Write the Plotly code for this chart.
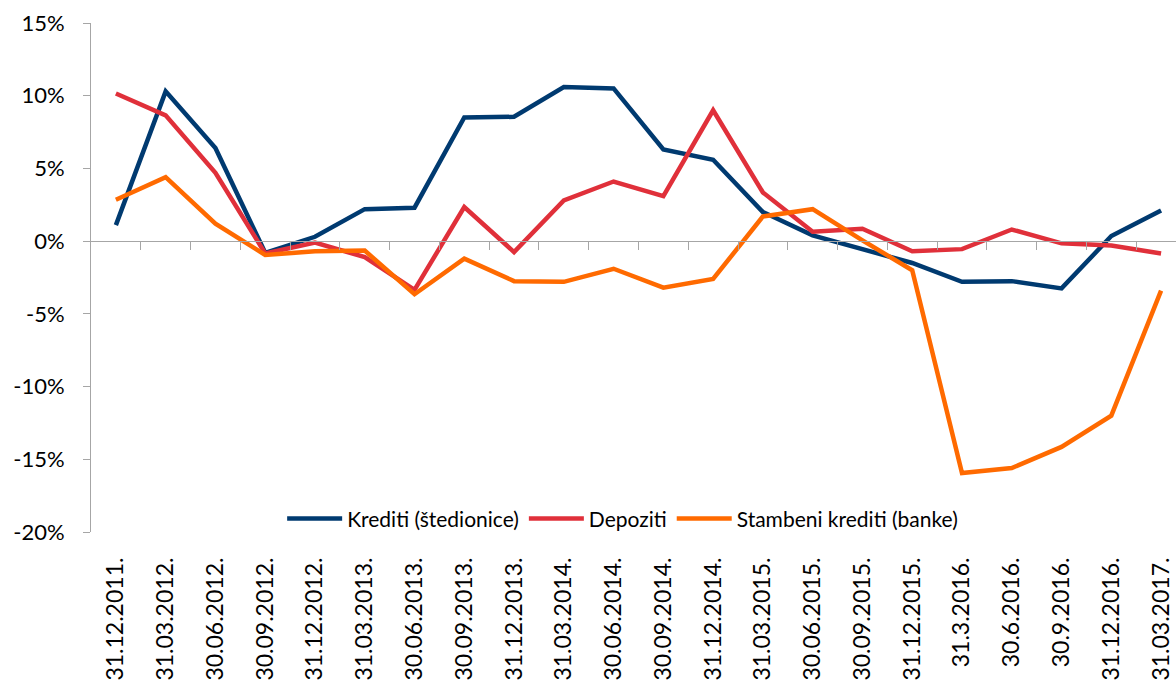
import plotly.graph_objects as go

# Quarter-end dates (x categories)
dates = [
    "31.12.2011.", "31.03.2012.", "30.06.2012.", "30.09.2012.", "31.12.2012.",
    "31.03.2013.", "30.06.2013.", "30.09.2013.", "31.12.2013.", "31.03.2014.",
    "30.06.2014.", "30.09.2014.", "31.12.2014.", "31.03.2015.", "30.06.2015.",
    "30.09.2015.", "31.12.2015.", "31.3.2016.", "30.6.2016.", "30.9.2016.",
    "31.12.2016.", "31.03.2017.",
]

# Annual growth rates, %
krediti_stedionice = [
    1.1, 10.3, 6.4, -0.8, 0.3, 2.2, 2.3, 8.5, 8.55, 10.6, 10.5,
    6.3, 5.6, 2.0, 0.4, -0.55, -1.5, -2.8, -2.75, -3.25, 0.35, 2.1,
]
depoziti = [
    10.15, 8.65, 4.7, -0.85, -0.1, -1.1, -3.35, 2.35, -0.75, 2.8, 4.1,
    3.1, 9.0, 3.35, 0.65, 0.85, -0.7, -0.55, 0.8, -0.15, -0.3, -0.85,
]
stambeni_krediti_banke = [
    2.85, 4.4, 1.2, -0.95, -0.7, -0.65, -3.65, -1.2, -2.75, -2.8, -1.9,
    -3.2, -2.6, 1.7, 2.2, 0.05, -2.0, -15.95, -15.6, -14.15, -12.0, -3.4,
]

y_ticks = [-20, -15, -10, -5, 0, 5, 10, 15]
y_tick_labels = [f"{v}%" for v in y_ticks]

series = [
    ("Krediti (štedionice)", krediti_stedionice, "#003A70"),
    ("Depoziti", depoziti, "#E0303A"),
    ("Stambeni krediti (banke)", stambeni_krediti_banke, "#FF6A00"),
]

FONT = "Lato, 'Open Sans', sans-serif"
AXIS_GREY = "#A6A6A6"

fig = go.Figure()
for name, values, color in series:
    fig.add_trace(go.Scatter(
        x=dates, y=values, name=name, mode="lines",
        line=dict(color=color, width=4.5),
        xaxis="x", yaxis="y",
    ))

# Empty trace so the zero-line axis is created
fig.add_trace(go.Scatter(x=[], y=[], xaxis="x2", yaxis="y",
                         showlegend=False, hoverinfo="skip"))

x_range = [-0.5, len(dates) - 1 + 0.3]
y_min, y_max = -20, 15

fig.update_layout(
    width=1176, height=684,
    margin=dict(l=91, r=0, t=23, b=152),
    paper_bgcolor="white", plot_bgcolor="white",
    font=dict(family=FONT, color="black"),
    showlegend=True,
    legend=dict(
        orientation="h", x=0.49, xanchor="center", y=0.026, yanchor="middle",
        font=dict(size=21, family=FONT, color="black"),
        bgcolor="rgba(0,0,0,0)", itemwidth=55, traceorder="normal",
    ),
    xaxis=dict(
        type="category", range=x_range, automargin=False,
        showline=False, showgrid=False, zeroline=False,
        ticks="", tickangle=-90,
        tickfont=dict(size=23, family=FONT, color="black"),
        ticklabelstandoff=20,
    ),
    xaxis2=dict(
        overlaying="x", anchor="free", automargin=False,
        position=(0 - y_min) / (y_max - y_min),
        range=x_range, showgrid=False, zeroline=False,
        showline=True, linecolor=AXIS_GREY, linewidth=1,
        ticks="outside", ticklen=8, tickcolor=AXIS_GREY, tickwidth=1,
        tickmode="array",
        tickvals=[i + 0.5 for i in range(len(dates) - 1)],
        showticklabels=False,
    ),
    yaxis=dict(
        range=[y_min, y_max], tickmode="array", automargin=False,
        tickvals=y_ticks, ticktext=y_tick_labels,
        showgrid=False, zeroline=False,
        showline=True, linecolor=AXIS_GREY, linewidth=1,
        ticks="outside", ticklen=7, tickcolor=AXIS_GREY, tickwidth=1,
        tickfont=dict(size=22, family=FONT, color="black"),
        ticklabelstandoff=14,
    ),
)

fig.write_html("out.html")
